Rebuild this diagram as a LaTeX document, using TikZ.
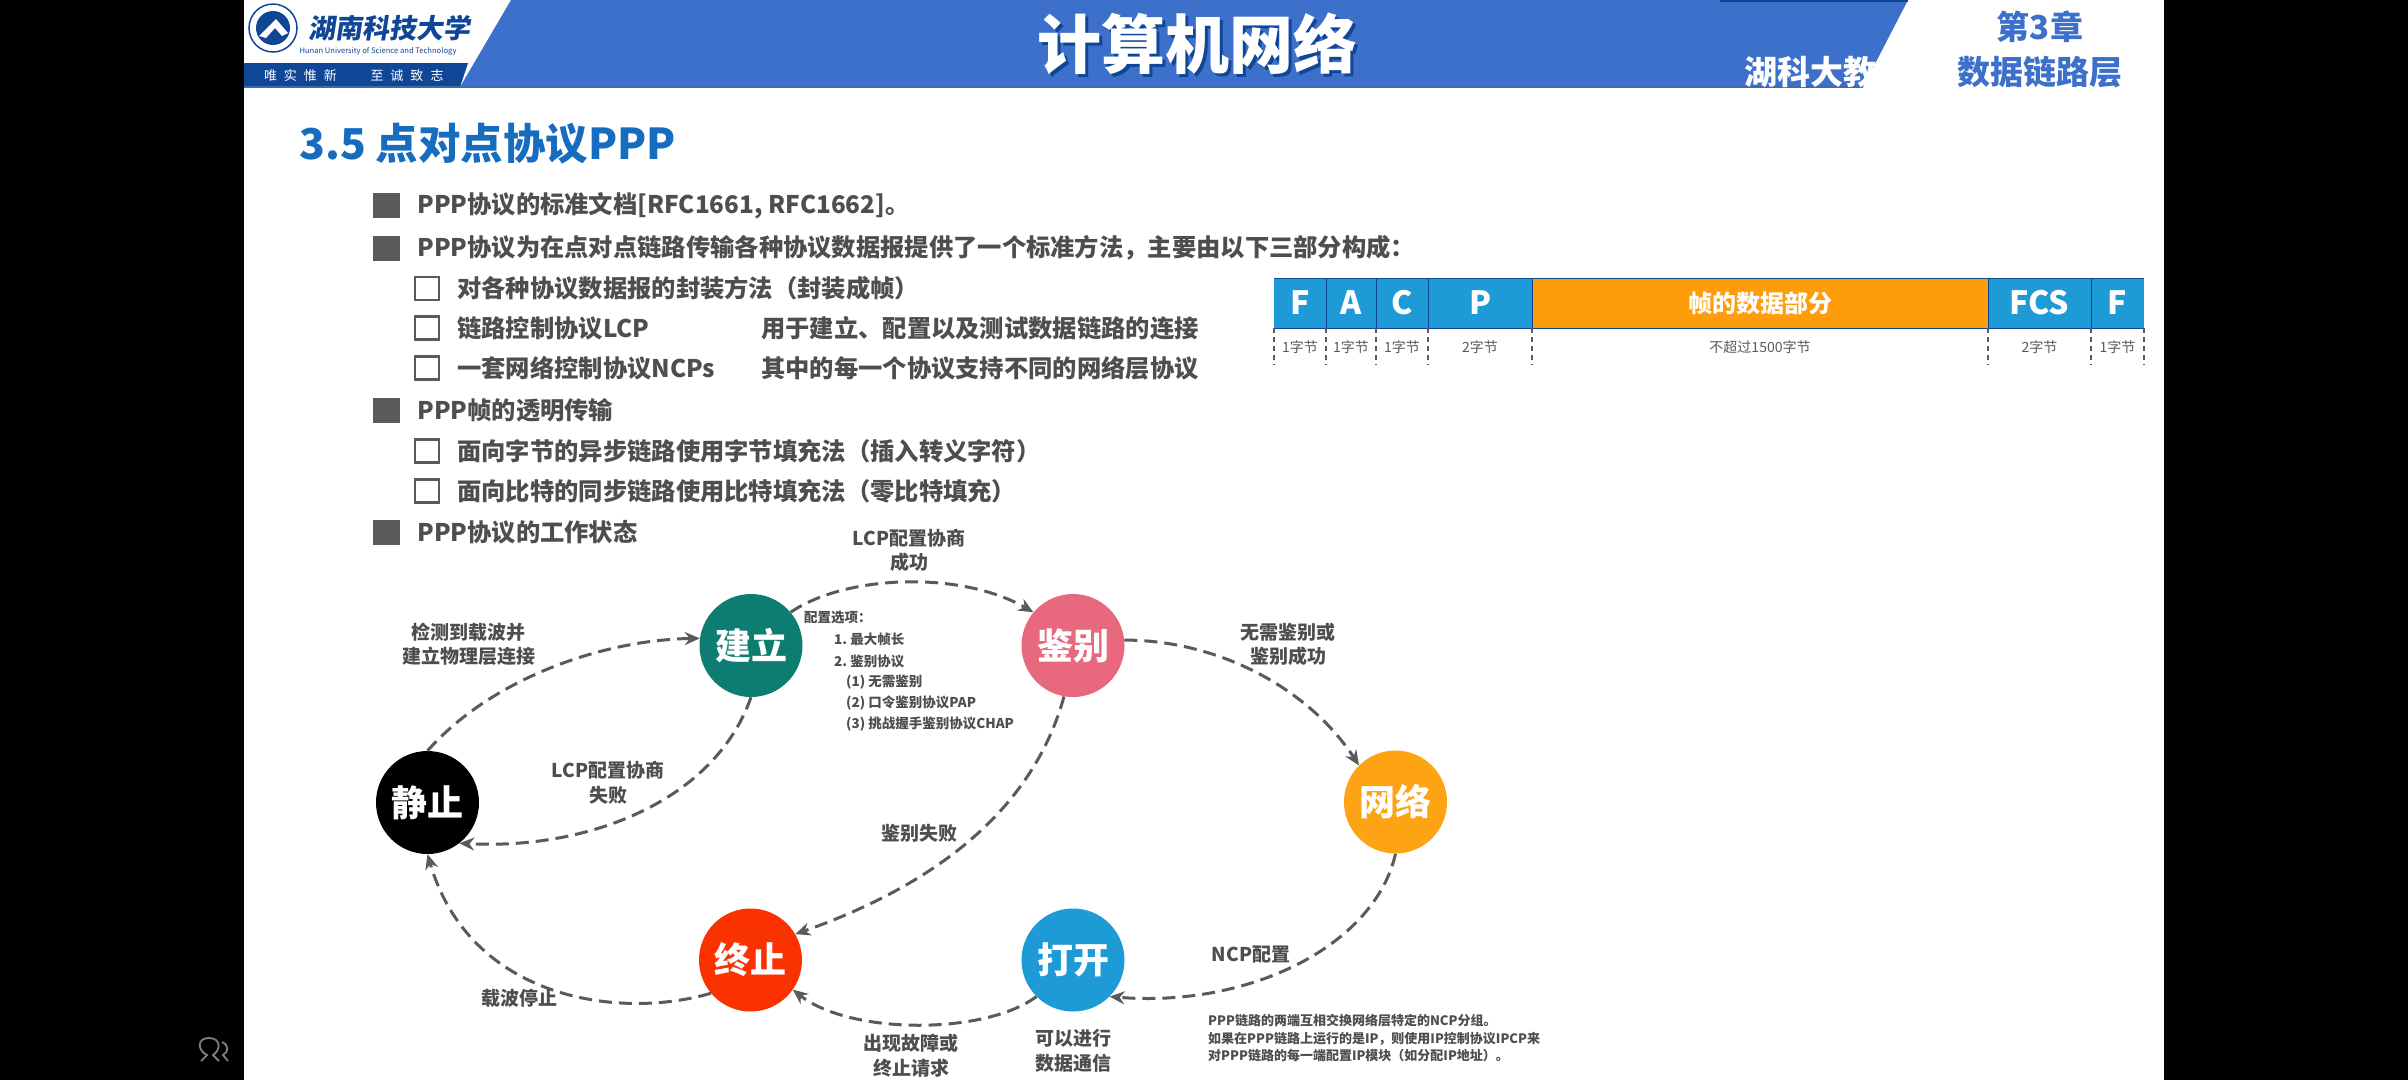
\documentclass[tikz,border=0pt]{standalone}
\usepackage{fontspec}
\setmainfont{Noto Sans CJK SC}
\usetikzlibrary{arrows.meta, positioning}
\definecolor{pagebar}{RGB}{60,112,202}
\definecolor{pagedark}{RGB}{16,70,150}
\definecolor{headblue}{RGB}{22,108,190}
\definecolor{bodygray}{RGB}{78,78,78}
\definecolor{boxgray}{RGB}{90,90,90}
\definecolor{cellblue}{RGB}{30,154,214}
\definecolor{cellorange}{RGB}{255,156,10}
\definecolor{stgreen}{RGB}{14,125,113}
\definecolor{stpink}{RGB}{232,104,126}
\definecolor{storange}{RGB}{254,163,20}
\definecolor{stblue}{RGB}{30,154,214}
\definecolor{stred}{RGB}{250,50,0}
\begin{document}
\begin{tikzpicture}[
  x=1pt, y=-1pt,
  bulfull/.style={rectangle, fill=boxgray, minimum width=27pt, minimum height=25pt, inner sep=0pt},
  bulopen/.style={rectangle, draw=boxgray, line width=2.2pt, fill=white, minimum width=24pt, minimum height=23pt, inner sep=0pt},
  body/.style={inner sep=0pt, anchor=west, text=bodygray, font=\fontsize{24.3}{28}\selectfont\bfseries},
  cell/.style={rectangle, fill=cellblue, minimum height=50pt, inner sep=0pt, outer sep=0pt, text=white, font=\fontsize{32}{36}\selectfont\bfseries},
  size/.style={inner sep=0pt, text=boxgray, font=\fontsize{14}{16}\selectfont},
  tick/.style={draw=boxgray, line width=1.4pt, dash pattern=on 5pt off 4pt},
  state/.style={circle, minimum size=103pt, inner sep=0pt, text=white, font=\fontsize{36}{40}\selectfont\bfseries},
  flow/.style={-{Stealth[length=15pt,width=13pt]}, draw=boxgray, line width=3pt, dash pattern=on 13pt off 7pt},
  tag/.style={align=center, inner sep=0pt, text=bodygray, font=\fontsize{19}{24.5}\selectfont\bfseries},
  note/.style={inner sep=0pt, anchor=west, text=bodygray, font=\fontsize{13.5}{17.5}\selectfont\bfseries}
]
  % page
  \useasboundingbox (0,0) rectangle (2408,1080);
  \fill[black] (0,0) rectangle (2408,1080);
  \fill[white] (244,0) rectangle (2164,1080);
  \draw[gray, line width=1.8pt] (201,1061) -- (207,1055) .. controls (197,1050) and (197,1038) .. (209,1038) .. controls (221,1038) and (221,1050) .. (213,1055) -- (219,1061);
  \draw[gray, line width=1.8pt] (222,1042) .. controls (229,1045) and (229,1052) .. (223,1055) -- (228,1061);

  % header
  \fill[pagebar] (511,0) -- (1908,0) -- (1863,87) -- (460,87) -- cycle;
  \fill[pagedark] (244,63) -- (468,63) -- (460,87) -- (244,87) -- cycle;
  \fill[pagedark] (1720,0) rectangle (1908,2);
  \draw[pagedark!80, line width=1.5pt] (244,87) -- (1863,87);
  \draw[pagedark, line width=1.5pt] (273,28) circle (24pt);
  \fill[pagedark] (273,28) circle (17pt);
  \fill[white] (259,36) -- (276,19) -- (288,33) -- (282,36) -- (275,28) -- (266,38) -- cycle;
  \node[inner sep=0pt, text=pagedark, font=\fontsize{27}{30}\selectfont\bfseries, xslant=0.15] (school) at (391,28) {湖南科技大学};
  \node[inner sep=0pt, text=pagedark, font=\fontsize{7.6}{9}\selectfont] (schoolen) at (378,51) {Hunan University of Science and Technology};
  \node[inner sep=0pt, text=white, font=\fontsize{13}{15}\selectfont] (mottoa) at (300.5,76) {唯\hspace{7pt}实\hspace{7pt}惟\hspace{7pt}新};
  \node[inner sep=0pt, text=white, font=\fontsize{13}{15}\selectfont] (mottob) at (407,76) {至\hspace{7pt}诚\hspace{7pt}致\hspace{7pt}志};
  \node[inner sep=0pt, text=pagedark, font=\fontsize{64}{68}\selectfont\bfseries] (courseb) at (1200,47) {计算机网络};
  \node[inner sep=0pt, text=white, font=\fontsize{64}{68}\selectfont\bfseries] (course) at (1197,44) {计算机网络};
  \node[inner sep=0pt, anchor=west, text=white, font=\fontsize{33}{36}\selectfont\bfseries] (owner) at (1744,72) {湖科大教书匠};
  \node[inner sep=0pt, text=pagebar, font=\fontsize{33}{36}\selectfont\bfseries] (chap) at (2040,27) {第3章};
  \node[inner sep=0pt, text=pagebar, font=\fontsize{33}{36}\selectfont\bfseries] (chapname) at (2040,72) {数据链路层};

  % section title and list
  \node[inner sep=0pt, anchor=west, text=headblue, font=\fontsize{42.5}{46}\selectfont\bfseries] (title) at (299,144) {3.5 点对点协议PPP};
  \node[bulfull] (b1) at (386.5,205.5) {};
  \node[body, right=17pt of b1] (t1) {PPP协议的标准文档[RFC1661, RFC1662]。};
  \node[bulfull] (b2) at (386.5,248) {};
  \node[body, right=17pt of b2] (t2) {PPP协议为在点对点链路传输各种协议数据报提供了一个标准方法，主要由以下三部分构成：};
  \node[bulopen] (s1) at (427,288.5) {};
  \node[body, right=17pt of s1] (u1) {对各种协议数据报的封装方法（封装成帧）};
  \node[bulopen] (s2) at (427,328) {};
  \node[body, right=17pt of s2] (u2) {链路控制协议LCP};
  \node[body] (v2) at (761,328) {用于建立、配置以及测试数据链路的连接};
  \node[bulopen] (s3) at (427,368) {};
  \node[body, right=17pt of s3] (u3) {一套网络控制协议NCPs};
  \node[body] (v3) at (761,368) {其中的每一个协议支持不同的网络层协议};
  \node[bulfull] (b3) at (386.5,410) {};
  \node[body, right=17pt of b3] (t3) {PPP帧的透明传输};
  \node[bulopen] (s4) at (427,451) {};
  \node[body, right=17pt of s4] (u4) {面向字节的异步链路使用字节填充法（插入转义字符）};
  \node[bulopen] (s5) at (427,491) {};
  \node[body, right=17pt of s5] (u5) {面向比特的同步链路使用比特填充法（零比特填充）};
  \node[bulfull] (b4) at (386.5,532) {};
  \node[body, right=17pt of b4] (t4) {PPP协议的工作状态};

  % frame
  \node[cell, minimum width=52pt] (fa) at (1300,303) {F};
  \node[cell, minimum width=50pt, right=0pt of fa] (fb) {A};
  \node[cell, minimum width=52pt, right=0pt of fb] (fc) {C};
  \node[cell, minimum width=104pt, right=0pt of fc] (fd) {P};
  \node[cell, minimum width=456pt, right=0pt of fd, fill=cellorange, font=\fontsize{24}{28}\selectfont\bfseries] (fe) {帧的数据部分};
  \node[cell, minimum width=103pt, right=0pt of fe] (ff) {FCS};
  \node[cell, minimum width=53pt, right=0pt of ff] (fg) {F};
  \draw[pagedark, line width=0.8pt] (fa.south west) -- (fg.south east);
  \draw[pagedark, line width=0.8pt] (fa.north west) -- (fg.north east);
  \foreach \c in {fa,fb,fc,fd,fe,ff} \draw[pagedark, line width=0.8pt] (\c.north east) -- (\c.south east);
  \draw[tick] (fa.south west) -- ++(0,37);
  \foreach \c in {fa,fb,fc,fd,fe,ff,fg} \draw[tick] (\c.south east) -- ++(0,37);
  \node[size] (la) at (1300,347) {1字节};
  \node[size] (lb) at (la -| fb) {1字节};
  \node[size] (lc) at (la -| fc) {1字节};
  \node[size] (ld) at (la -| fd) {2字节};
  \node[size] (le) at (la -| fe) {不超过1500字节};
  \node[size] (lf) at (la -| ff) {2字节};
  \node[size] (lg) at (la -| fg) {1字节};

  % states
  \node[state, fill=stgreen] (jianli) at (751,645.5) {建立};
  \node[state, fill=stpink] (jianbie) at (1073,645.5) {鉴别};
  \node[state, fill=storange] (wangluo) at (1395.5,802) {网络};
  \node[state, fill=stblue] (dakai) at (1073,960) {打开};
  \node[state, fill=stred] (zhongzhi) at (750.5,960) {终止};
  \node[state, fill=black] (jingzhi) at (427.5,802.5) {静止};

  % transitions
  \draw[flow] (jingzhi.north) .. controls (490,680) and (600,640) .. (jianli.172);
  \draw[flow] (jianli.south) .. controls (715,800) and (590,850) .. (jingzhi.-52);
  \draw[flow] (jianli.40) .. controls (845,575) and (960,570) .. (jianbie.140);
  \draw[flow] (jianbie.6) .. controls (1220,640) and (1310,690) .. (wangluo.135);
  \draw[flow] (wangluo.south) .. controls (1375,945) and (1250,1008) .. (dakai.-45);
  \draw[flow] (dakai.-135) .. controls (985,1035) and (850,1035) .. (zhongzhi.-35);
  \draw[flow] (zhongzhi.-140) .. controls (620,1020) and (470,1000) .. (jingzhi.south);
  \draw[flow] (jianbie.-100) .. controls (1030,820) and (920,890) .. (zhongzhi.30);

  % transition labels
  \node[tag] (lcpok) at (909,550.5) {LCP配置协商\\成功};
  \node[tag] (carrier) at (468.5,644.5) {检测到载波并\\建立物理层连接};
  \node[tag] (lcpfail) at (608,782.5) {LCP配置协商\\失败};
  \node[tag] (authfail) at (919,833) {鉴别失败};
  \node[tag] (authok) at (1288,644.5) {无需鉴别或\\鉴别成功};
  \node[tag] (ncp) at (1251,955) {NCP配置};
  \node[tag] (carrierstop) at (519,998) {载波停止};
  \node[tag] (fault) at (911,1055.5) {出现故障或\\终止请求};
  \node[tag] (datacom) at (1073,1051) {可以进行\\数据通信};

  % notes
  \node[note] (opt) at (804,618) {配置选项：};
  \node[note] (opta) at (834,639.5) {1.\ 最大帧长};
  \node[note] (optb) at (834,661) {2.\ 鉴别协议};
  \node[note] (optc) at (846,682) {(1)\ 无需鉴别};
  \node[note] (optd) at (846,703) {(2)\ 口令鉴别协议PAP};
  \node[note] (opte) at (846,724) {(3)\ 挑战握手鉴别协议CHAP};
  \node[note, align=left, anchor=north west, font=\fontsize{13}{17.5}\selectfont\bfseries] (ncpnote) at (1208,1014) {PPP链路的两端互相交换网络层特定的NCP分组。\\如果在PPP链路上运行的是IP，则使用IP控制协议IPCP来\\对PPP链路的每一端配置IP模块（如分配IP地址）。};
\end{tikzpicture}
\end{document}
